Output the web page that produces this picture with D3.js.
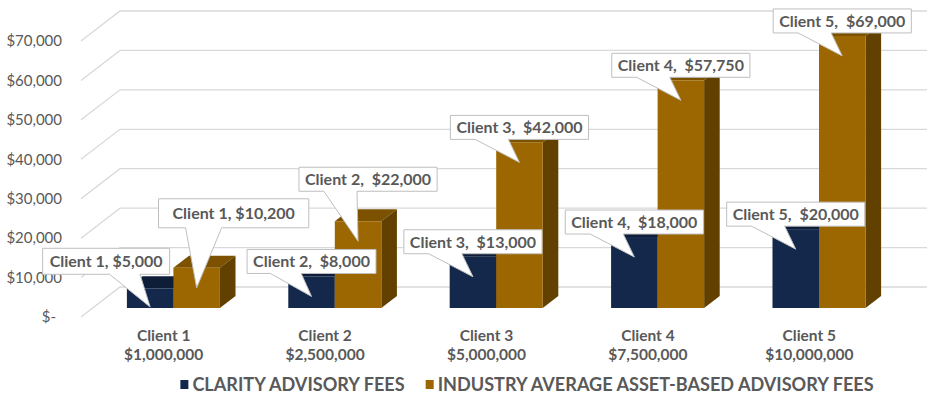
<!DOCTYPE html>
<html>
<head>
<meta charset="utf-8">
<script src="https://cdn.jsdelivr.net/npm/d3@7"></script>
<style>
  body { margin: 0; background: #fff; }
  text { font-family: Lato, "Liberation Sans", sans-serif; fill: #595959; }
</style>
</head>
<body>
<svg id="chart" width="949" height="404"></svg>
<script>
/**
 * Data
 */
const categories = ["Client 1", "Client 2", "Client 3", "Client 4", "Client 5"];
const assetLabels = ["$1,000,000", "$2,500,000", "$5,000,000", "$7,500,000", "$10,000,000"];
const clarityFees = [5000, 8000, 13000, 18000, 20000];
const industryFees = [10200, 22000, 42000, 57750, 69000];
const seriesNames = ["CLARITY ADVISORY FEES", "INDUSTRY AVERAGE ASSET-BASED ADVISORY FEES"];
const yTicks = [0, 10000, 20000, 30000, 40000, 50000, 60000, 70000];
// separator used inside the data labels (Client 1 has a single space)
const labelSeparators = [", ", ",  ", ",  ", ",  ", ",  "];

/**
 * Layout / style
 */
const COLORS = [
  { front: "#14284b", top: "#0e1d38", side: "#0b1730" },
  { front: "#9c6700", top: "#7c5200", side: "#624100" },
];
const FRONT = { x: 81, y: 317 };     // front-left corner of the floor
const DEPTH = { dx: 39, dy: -30 };   // floor depth offset (oblique)
const PLOT_W = 807;
const PLOT_H = 276;                   // pixels for 0..70,000
const BAR_D0 = 0.3, BAR_D1 = 0.7;     // bar depth slice

// label nudges [dx, dy, padX, height] for [series][category]
const LABEL_LAYOUT = [
  [[-44, -11, 7, 26], [0, 0, 6, 24], [0, 0, 6, 24], [0, 0, 6, 24], [0, 0, 6, 24]],
  [[37, -37, 14, 29], [10, -27, 6, 24], [0, 0, 6, 24], [0, 0, 6, 24], [0, 0, 6, 24]],
];

const svg = d3.select("#chart");

const x = d3.scaleBand().domain(categories).range([0, PLOT_W]);
const xSub = d3.scaleBand().domain([0, 1]).range([0, x.bandwidth()])
  .paddingInner(0).paddingOuter(0.735);
const y = d3.scaleLinear().domain([0, 70000]).range([0, PLOT_H]);

// project (x along axis, value, depth 0..1) to screen
function proj(px, v, d) {
  return [FRONT.x + px + d * DEPTH.dx, FRONT.y - y(v) + d * DEPTH.dy];
}

/**
 * Gridlines (back wall + left wall)
 */
const grid = svg.append("g").attr("stroke", "#d9d9d9").attr("stroke-width", 1.3).attr("fill", "none");
yTicks.forEach((v) => {
  const a = proj(0, v, 0), b = proj(0, v, 1), c = proj(PLOT_W, v, 1);
  grid.append("path").attr("d", d3.line()([a, b, c]));
});

// y axis labels
const fmt = d3.format("$,");
svg.append("g").selectAll("text")
  .data(yTicks)
  .enter()
  .append("text")
  .attr("x", (v) => (v === 0 ? 56 : 62))
  .attr("y", (v) => proj(0, v, 0)[1])
  .attr("dy", "0.35em")
  .attr("text-anchor", "end")
  .style("font-size", "15px")
  .text((v) => (v === 0 ? "$-" : fmt(v)));

/**
 * Bars
 */
const series = [clarityFees, industryFees];
const bars = svg.append("g");
const anchors = [[], []];

categories.forEach((cat, i) => {
  series.forEach((vals, s) => {
    const v = vals[i];
    const x0 = x(cat) + xSub(s), x1 = x0 + xSub.bandwidth();
    const fb = proj(x0, 0, BAR_D0);
    const ft = proj(x0, v, BAR_D0);
    const frt = proj(x1, v, BAR_D0);
    const frb = proj(x1, 0, BAR_D0);
    const blt = proj(x0, v, BAR_D1);
    const brt = proj(x1, v, BAR_D1);
    const brb = proj(x1, 0, BAR_D1);

    bars.append("path").attr("fill", COLORS[s].top)
      .attr("d", d3.line()([ft, frt, brt, blt]) + "Z");
    bars.append("path").attr("fill", COLORS[s].side)
      .attr("d", d3.line()([frb, frt, brt, brb]) + "Z");
    bars.append("rect").attr("fill", COLORS[s].front)
      .attr("x", ft[0]).attr("y", ft[1])
      .attr("width", x1 - x0).attr("height", fb[1] - ft[1]);

    anchors[s][i] = { cx: (ft[0] + frt[0]) / 2, top: ft[1], base: fb[1], v: v };
  });
});

/**
 * Category labels
 */
const catG = svg.append("g").style("font-size", "15.5px").style("font-weight", "bold")
  .attr("text-anchor", "middle");
categories.forEach((cat, i) => {
  const cx = FRONT.x + x(cat) + x.bandwidth() / 2 + 2;
  catG.append("text").attr("x", cx).attr("y", 341).text(cat);
  catG.append("text").attr("x", cx).attr("y", 360).text(assetLabels[i]);
});

/**
 * Data label callouts
 */
const callG = svg.append("g");
series.forEach((vals, s) => {
  vals.forEach((v, i) => {
    const a = anchors[s][i];
    const [ndx, ndy, padX, h] = LABEL_LAYOUT[s][i];
    const g = callG.append("g");
    const path = g.append("path").attr("fill", "#fff").attr("stroke", "#bfbfbf").attr("stroke-width", 1);
    const t = g.append("text")
      .style("font-size", "16px").style("font-weight", "bold")
      .attr("text-anchor", "middle")
      .attr("dy", "0.36em")
      .style("white-space", "pre")
      .text(categories[i] + labelSeparators[i] + fmt(v));
    const tw = t.node().getComputedTextLength();
    const w = tw + 2 * padX;
    const cx = a.cx + ndx;
    const bottom = a.top - 3 + ndy;
    const bx = cx - w / 2, by = bottom - h;
    t.attr("x", cx).attr("y", by + h / 2);

    const tip = [a.cx, Math.min(a.top + 20, a.base - 1)];
    const tipRel = (tip[0] - bx) / w;
    const bc = Math.max(0.3, tipRel - 0.2) * w;
    const bl = bx + bc - 0.12 * w, br = bx + bc + 0.12 * w;
    path.attr("d", d3.line()([
      [bx, by], [bx + w, by], [bx + w, bottom], [br, bottom], tip, [bl, bottom], [bx, bottom],
    ]) + "Z");
  });
});

/**
 * Legend
 */
const leg = svg.append("g").style("font-size", "18.1px").style("font-weight", "bold");
let lx = 0;
const items = [];
seriesNames.forEach((name, s) => {
  const sq = leg.append("rect").attr("width", 8).attr("height", 9).attr("fill", COLORS[s].front);
  const t = leg.append("text").attr("dy", "0.35em").text(name);
  const tw = t.node().getComputedTextLength();
  items.push({ sq, t, x: lx });
  lx += 12 + tw + 21;
});
const legW = lx - 21;
const legX = 527 - legW / 2;
items.forEach((it) => {
  it.sq.attr("x", legX + it.x).attr("y", 380);
  it.t.attr("x", legX + it.x + 12).attr("y", 385);
});
</script>
</body>
</html>
